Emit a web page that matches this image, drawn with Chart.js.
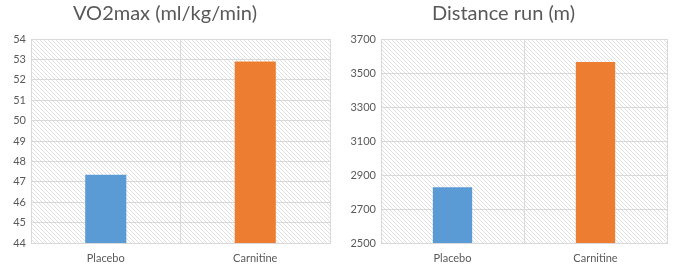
<!DOCTYPE html>
<html>
<head>
<meta charset="utf-8">
<script src="https://cdn.jsdelivr.net/npm/chart.js@4.4.0/dist/chart.umd.min.js"></script>
<style>
  body { margin: 0; background: #fff; }
  .box { position: absolute; top: 0; height: 266px; }
</style>
</head>
<body>
<div class="box" style="left:0;width:340px"><canvas id="vo2-chart"></canvas></div>
<div class="box" style="left:340px;width:341px"><canvas id="dist-chart"></canvas></div>
<script>
const categories = ['Placebo', 'Carnitine']
const vo2Values = [47.35, 52.9]
const distValues = [2828, 3565]
const barColors = ['#5b9bd5', '#ed7d31']
const vo2Ticks = { min: 44, max: 54, step: 1 }
const distTicks = { min: 2500, max: 3700, step: 200 }

const font = 'Lato, "Open Sans", sans-serif'
const gridColor = '#d9d9d9'

// diagonal hatch for the plot background
function hatch() {
    const c = document.createElement('canvas')
    c.width = 4; c.height = 4
    const g = c.getContext('2d')
    g.fillStyle = '#e0e0e0'
    for (let i = 0; i < 4; i++) g.fillRect(i, i, 1, 1)
    return g.createPattern(c, 'repeat')
}

const hatchPlugin = {
    id: 'hatch',
    beforeDraw(chart) {
        const a = chart.chartArea
        const ctx = chart.ctx
        ctx.save()
        ctx.fillStyle = hatch()
        ctx.fillRect(a.left, a.top, a.right - a.left, a.bottom - a.top)
        ctx.restore()
    }
}

function makeChart(id, title, values, ticks, yWidth, padRight) {
    new Chart(document.getElementById(id), {
        type: 'bar',
        data: {
            labels: categories,
            datasets: [{
                data: values,
                backgroundColor: barColors,
                categoryPercentage: 1,
                barPercentage: 0.275
            }]
        },
        options: {
            responsive: true,
            maintainAspectRatio: false,
            animation: false,
            layout: { padding: { top: 0, right: padRight, bottom: 0, left: 0 } },
            plugins: {
                legend: { display: false },
                tooltip: { enabled: false },
                title: {
                    display: true,
                    text: title,
                    color: '#595959',
                    font: { family: font, size: 20, weight: 'normal' },
                    padding: { top: 2, bottom: 13 }
                }
            },
            scales: {
                x: {
                    grid: { color: gridColor, drawTicks: false },
                    border: { color: gridColor },
                    ticks: { color: '#595959', font: { family: font, size: 11 }, padding: 9 },
                    afterFit(s) { s.height = 23 }
                },
                y: {
                    min: ticks.min,
                    max: ticks.max,
                    grid: { color: gridColor, drawTicks: false },
                    border: { color: gridColor },
                    ticks: {
                        stepSize: ticks.step,
                        color: '#595959',
                        font: { family: font, size: 11 },
                        padding: 5,
                        callback: v => String(v)
                    },
                    afterFit(s) { s.width = yWidth }
                }
            }
        },
        plugins: [hatchPlugin]
    })
}

makeChart('vo2-chart', 'VO2max (ml/kg/min)', vo2Values, vo2Ticks, 31, 10)
makeChart('dist-chart', 'Distance run (m)', distValues, distTicks, 41, 14)
</script>
</body>
</html>
